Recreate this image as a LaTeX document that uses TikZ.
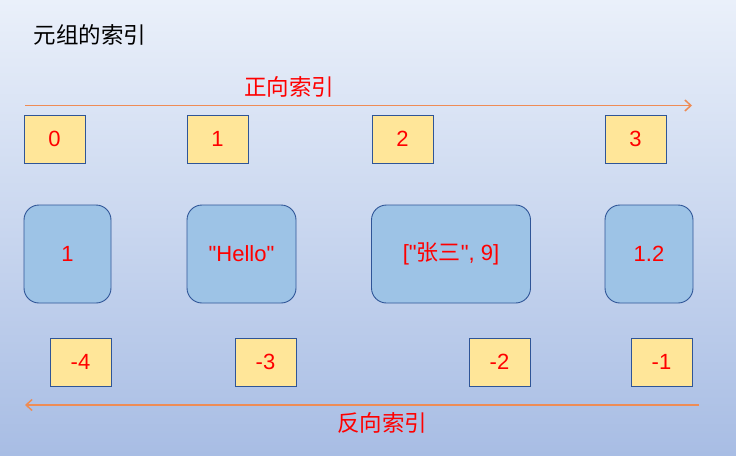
\documentclass[tikz,border=0pt]{standalone}
\usepackage{fontspec}
\setmainfont{Liberation Sans}[Ligatures=TeXOff]
\newfontfamily\cjk{Noto Sans CJK SC}[Ligatures=TeXOff]
\usetikzlibrary{arrows.meta}
\definecolor{bgtop}{RGB}{234,240,250}
\definecolor{bgbot}{RGB}{168,189,228}
\definecolor{ybox}{RGB}{255,230,153}
\definecolor{bbox}{RGB}{157,195,230}
\definecolor{edge}{RGB}{47,85,151}
\definecolor{arr}{RGB}{238,140,85}
\begin{document}
\begin{tikzpicture}[x=1pt,y=-1pt,
  idx/.style={draw=edge,fill=ybox,line width=0.9pt,minimum width=61pt,minimum height=48pt,inner sep=0pt,text=red,font=\fontsize{22}{24}\selectfont},
  elem/.style={draw=edge,fill=bbox,line width=0.9pt,rounded corners=15pt,minimum height=98pt,inner sep=0pt,text=red,font=\fontsize{22}{24}\selectfont},
  lbl/.style={text=red,font=\cjk\fontsize{22.5}{24}\selectfont,inner sep=0pt},
  idxarrow/.style={draw=arr,line width=1.5pt,-{Straight Barb[length=6pt,width=11pt]}}]
\shade[top color=bgtop,bottom color=bgbot] (0,0) rectangle (736,455);
\useasboundingbox (0,0) rectangle (736,455);
\node[inner sep=0pt,font=\cjk\fontsize{22.5}{24}\selectfont] (title) at (90,35) {元组的索引};
\node[lbl] (fwd) at (289,87) {正向索引};
\node[lbl] (bwd) at (382,423) {反向索引};
\coordinate (fa) at (25,105.5);
\coordinate (fb) at (692,105.5);
\coordinate (ba) at (699,405);
\coordinate (bb) at (25,405);
\draw[idxarrow] (fa) -- (fb);
\draw[idxarrow] (ba) -- (bb);
\node[idx] (p0) at (54.5,139) {0};
\node[idx] (p1) at (217.5,139) {1};
\node[idx] (p2) at (402.5,139) {2};
\node[idx] (p3) at (635.5,139) {3};
\node[elem,minimum width=87pt] (e1) at (67.5,254) {1};
\node[elem,minimum width=109pt] (e2) at (241.5,254) {"Hello"};
\node[elem,minimum width=159pt] (e3) at (451,254) {["{\cjk 张三}", 9]};
\node[elem,minimum width=88pt] (e4) at (649,254) {1.2};
\node[idx] (n4) at (80.5,362) {-4};
\node[idx] (n3) at (265.5,362) {-3};
\node[idx] (n2) at (499.5,362) {-2};
\node[idx] (n1) at (661.5,362) {-1};
\end{tikzpicture}
\end{document}
